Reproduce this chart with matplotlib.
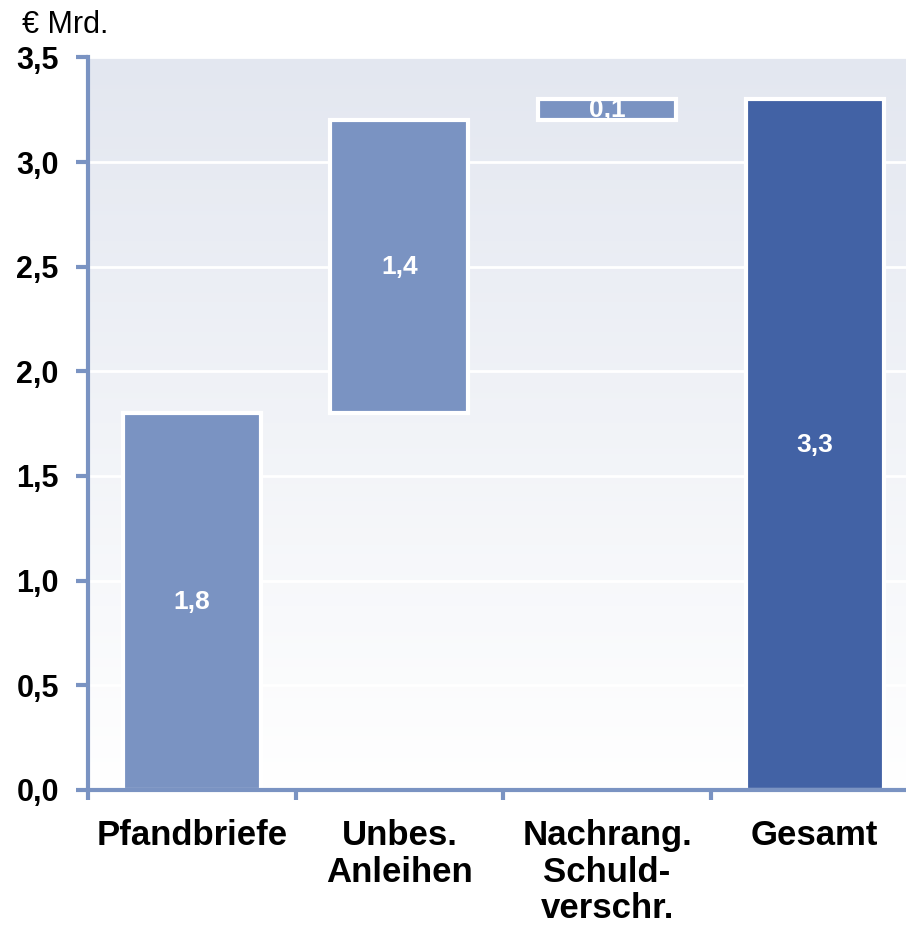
import numpy as np
import matplotlib.pyplot as plt
from matplotlib.colors import LinearSegmentedColormap

plt.rcParams['font.family'] = ['Liberation Sans', 'DejaVu Sans']

# Data
categories = ["Pfandbriefe", "Unbes.\nAnleihen", "Nachrang.\nSchuld-\nverschr.", "Gesamt"]
values = [1.8, 1.4, 0.1, 3.3]
bottoms = [0.0, 1.8, 3.2, 0.0]
labels = ["1,8", "1,4", "0,1", "3,3"]
colors = ["#7a93c2", "#7a93c2", "#7a93c2", "#4262a5"]
yticks = [0.0, 0.5, 1.0, 1.5, 2.0, 2.5, 3.0, 3.5]
ytick_labels = ["0,0", "0,5", "1,0", "1,5", "2,0", "2,5", "3,0", "3,5"]

fig = plt.figure(figsize=(9.06, 9.25), dpi=100)
ax = fig.add_axes([0.0971, 0.146, 0.903, 0.792])

x = np.arange(len(categories))
xmax = 3.44
ax.set_ylim(0, 3.5)

# gradient background
grad = np.linspace(1, 0, 256).reshape(-1, 1)
cmap = LinearSegmentedColormap.from_list("bg", ["#ffffff", "#e3e7f0"])
ax.imshow(grad, aspect="auto", cmap=cmap, extent=[-0.5, xmax, 0, 3.5],
          origin="upper", zorder=0)
ax.set_xlim(-0.5, xmax)

for yv in yticks[1:]:
    ax.axhline(yv, color="white", lw=2, zorder=1)

ax.bar(x, values, bottom=bottoms, width=0.665, color=colors, edgecolor="white",
       linewidth=3, zorder=2)

for xi, v, b, lab in zip(x, values, bottoms, labels):
    ax.text(xi, b + v / 2, lab, ha="center", va="center", color="white",
            fontsize=19, fontweight="bold", zorder=3)

for s in ["top", "right"]:
    ax.spines[s].set_visible(False)
ax.spines["left"].set_color("#7a93c2")
ax.spines["bottom"].set_color("#7a93c2")
ax.spines["left"].set_linewidth(3)
ax.spines["bottom"].set_linewidth(3)

ax.set_yticks(yticks)
ax.set_yticklabels(ytick_labels, fontsize=22, fontweight="bold")
ax.tick_params(axis="y", length=9, width=3, color="#7a93c2", pad=12)

ax.set_xticks([-0.5, 0.5, 1.5, 2.5])
ax.set_xticklabels([])
ax.tick_params(axis="x", length=7, width=3, color="#7a93c2")
for xi, cat in zip(x, categories):
    ax.annotate(cat, xy=(xi, 0), xytext=(0, -21), textcoords="offset points",
                ha="center", va="top", fontsize=25, fontweight="bold",
                linespacing=1.14, annotation_clip=False)

fig.text(0.024, 0.973, "€ Mrd.", fontsize=22, ha="left", va="center")

fig.savefig("out.png", dpi=100)
